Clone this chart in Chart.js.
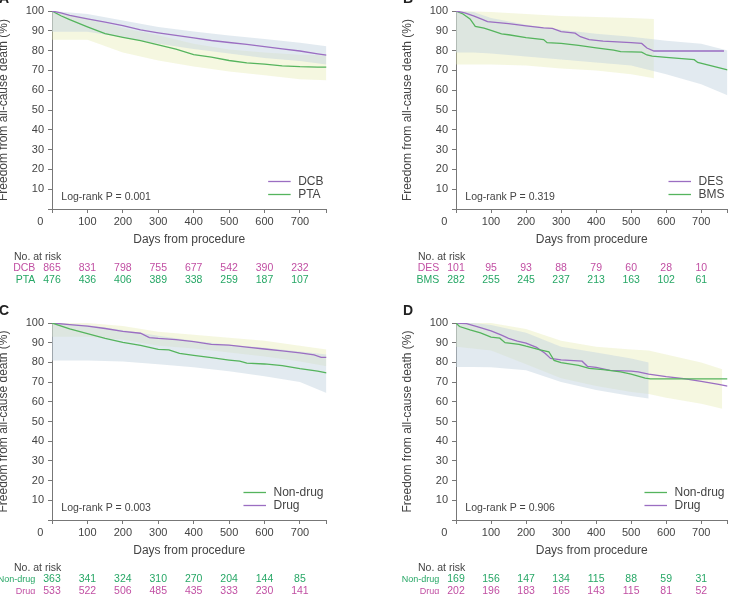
<!DOCTYPE html>
<html><head><meta charset="utf-8">
<script src="https://cdn.jsdelivr.net/npm/chart.js"></script>
<style>
html,body{margin:0;padding:0;width:734px;height:594px;overflow:hidden;background:#fff;position:relative;}
canvas{position:absolute;}
</style></head><body>
<canvas id="cA"></canvas><canvas id="cB"></canvas><canvas id="cC"></canvas><canvas id="cD"></canvas>
<script>
// ---------- DATA ----------
const riskDays = [0,100,200,300,400,500,600,700];
const xTickValues = [0,100,200,300,400,500,600,700,775];

// Panel A
const aDcbDays = [0,25,50,100,150,200,250,300,350,400,450,500,550,600,650,700,750,775];
const aDcb     = [100,99.0,97.8,96.0,94.4,92.6,90.5,89.0,87.7,86.4,85.1,84.1,83.1,82.0,80.9,79.8,78.4,77.7];
const aPtaDays = [0,25,50,100,150,200,250,300,350,400,450,500,550,600,650,700,750,775];
const aPta     = [100,97.6,95.6,92.0,88.6,86.7,85.0,82.9,80.7,78.0,76.7,75.0,73.8,73.2,72.3,71.9,71.7,71.7];
const aBandDays = [0,100,200,300,400,500,600,700,775];
const aDcbHi = [100,98.5,95.2,91.9,89.6,87.6,85.8,84.0,82.2];
const aDcbLo = [89.5,89.5,86.8,83.4,80.8,78.5,76.3,74.8,73.0];
const aPtaHi = [100,96.5,91.4,87.8,83.4,80.6,79.0,77.9,77.7];
const aPtaLo = [85.5,85.5,79.0,75.0,72.0,69.5,67.5,65.5,65.0];
const aRiskDcb = [865,831,798,755,677,542,390,232];
const aRiskPta = [476,436,406,389,338,259,187,107];

// Panel B
const bDesDays = [0,25,50,75,90,150,200,250,275,300,340,355,380,420,500,530,545,565,765];
const bDes     = [100,99,97.5,95.8,94.6,93.6,92.5,91.5,91.2,89.6,88.8,87.0,85.5,84.8,84.0,83.6,81.3,79.8,79.8];
const bBmsDays = [0,20,40,50,55,80,100,130,150,200,250,260,300,350,400,450,470,530,545,560,600,680,690,775];
const bBms     = [100,98.5,96,93.5,92.2,91.3,90.2,88.5,88,86.5,85.6,84,83.6,82.6,81.4,80.2,79.5,79.2,77.8,77.2,76.6,75.4,74,70.3];
const bDesBandDays = [0,100,200,300,400,500,565];
const bDesHi = [100,99.5,98.5,97.5,97,96.5,96];
const bDesLo = [73,73,72.5,71,70,68,66];
const bBmsBandDays = [0,50,100,200,300,400,500,600,700,775];
const bBmsHi = [100,99.5,96.5,93,90.5,88.5,87,85,83.5,80];
const bBmsLo = [79,79,78.5,77,75.5,74,72.5,68,63,57.5];
const bRiskDes = [101,95,93,88,79,60,28,10];
const bRiskBms = [282,255,245,237,213,163,102,61];

// Panel C
const cNonDays  = [0,50,100,150,200,250,300,330,360,400,450,500,530,550,600,650,700,750,775];
const cNon      = [100,97,94.6,92.2,90.2,88.6,86.6,86.4,84.6,83.6,82.4,81.2,80.6,79.6,79.2,78.4,76.8,75.6,74.7];
const cDrugDays = [0,50,100,150,200,250,275,300,350,400,450,500,550,600,650,700,740,760,775];
const cDrug     = [100,99.2,98.4,97.2,95.8,94.8,92.6,92.2,91.6,90.5,89.2,88.8,87.8,86.8,85.8,84.8,83.8,82.6,82.6];
const cBandDays = [0,100,200,300,400,500,600,700,775];
const cNonHi  = [100,99,96.5,93.5,91,89,87.5,85.5,84];
const cNonLo  = [81,81,80.5,79,77.5,75.5,73,70,64.5];
const cDrugHi = [100,100,98.5,95.5,94,92.5,91,88.5,86.5];
const cDrugLo = [93,93,91.5,88.5,87,85,83,80.5,78];
const cRiskNon  = [363,341,324,310,270,204,144,85];
const cRiskDrug = [533,522,506,485,435,333,230,141];

// Panel D
const dNonDays  = [0,10,40,70,100,125,140,180,200,240,265,280,300,350,380,420,470,500,540,555,775];
const dNon      = [100,98.2,96.5,95,92.8,92.3,90,89.2,88.2,86.4,85.4,81,79.9,78.5,77,76.3,75.2,74,72,71.6,71.6];
const dDrugDays = [0,30,60,100,130,150,175,200,230,255,270,300,360,375,400,440,500,520,550,600,650,700,750,775];
const dDrug     = [100,99.7,98.2,96,93.8,92.2,90.8,89.8,87.6,84.5,82,81.3,80.6,78,77.5,76,75.6,75.2,74,72.8,71.8,70.4,68.9,68];
const dNonBandDays = [0,50,100,200,300,400,500,550];
const dNonHi = [100,100,99,95,88,85,82,80];
const dNonLo = [77.7,77.7,77.5,76,70,66,63,61.7];
const dDrugBandDays = [0,100,200,300,400,500,550,600,700,760];
const dDrugHi = [100,100,97,91,88,86.5,86,84,80,76.5];
const dDrugLo = [88,86,79,72,68,65,64,62,59,56.5];
const dRiskNon  = [169,156,147,134,115,88,59,31];
const dRiskDrug = [202,196,183,165,143,115,81,52];

// ---------- STYLE ----------
const FONT = '"Liberation Sans", Arial, Helvetica, sans-serif';
const PURPLE = '#9b6ec2', GREEN = '#55b45d';
const TXT_M = '#c14fa3', TXT_G = '#27a766', TXT = '#444444', AXIS = '#777777';
const GRAY_BAND = 'rgba(198,213,226,0.5)', YEL_BAND = 'rgba(226,233,168,0.36)';

function pts(days, vals){ return days.map((d,i)=>({x:d, y:vals[i]})); }
function lineDs(label, days, vals, color){
  return {label, data:pts(days,vals), borderColor:color, borderWidth:1.3, pointRadius:0, fill:false, tension:0};
}
function bandDs(label, days, lo, hi, color){
  return [
    {label:label+' lo', data:pts(days,lo), borderColor:'rgba(0,0,0,0)', borderWidth:0, pointRadius:0, fill:false},
    {label:label+' hi', data:pts(days,hi), borderColor:'rgba(0,0,0,0)', borderWidth:0, pointRadius:0, fill:'-1', backgroundColor:color}
  ];
}

const annot = {
  id:'annot',
  afterDraw(chart, args, o){
    const ctx = chart.ctx, ca = chart.chartArea, xs = chart.scales.x;
    ctx.save();
    // panel letter
    ctx.fillStyle = '#222'; ctx.font = 'bold 14px '+FONT; ctx.textAlign='left'; ctx.textBaseline='alphabetic';
    ctx.fillText(o.letter, ca.left-53, ca.top-8);
    // shared origin 0
    ctx.fillStyle = TXT; ctx.font = '11px '+FONT; ctx.textAlign='center'; ctx.textBaseline='middle';
    ctx.fillText('0', ca.left-11.7, ca.bottom+12.7);
    // log-rank
    ctx.font = '10.5px '+FONT; ctx.textAlign='left';
    ctx.fillText(o.logrank, ca.left+9.3, ca.bottom-12.3);
    // legend
    ctx.font = '12px '+FONT;
    let maxW = 0; o.legend.forEach(e=>{ maxW = Math.max(maxW, ctx.measureText(e.label).width); });
    const tx = ca.right - 3 - maxW;
    o.legend.forEach((e,i)=>{
      const y = ca.bottom - 27.5 + i*13;
      ctx.strokeStyle = e.color; ctx.lineWidth = 1.3;
      ctx.beginPath(); ctx.moveTo(tx-30, y); ctx.lineTo(tx-7.5, y); ctx.stroke();
      ctx.fillStyle = TXT; ctx.textAlign='left'; ctx.fillText(e.label, tx, y);
    });
    // number at risk table
    ctx.fillStyle = TXT; ctx.font = '10.5px '+FONT; ctx.textAlign='left';
    ctx.fillText('No. at risk', ca.left-38, ca.bottom+47.7);
    o.rows.forEach((r,i)=>{
      const y = ca.bottom + 59.5 + i*12;
      ctx.fillStyle = r.color;
      ctx.font = o.rowFont+'px '+FONT; ctx.textAlign='right';
      ctx.fillText(r.label, ca.left-16.7, y);
      ctx.font = '10.5px '+FONT; ctx.textAlign='center';
      r.values.forEach((v,j)=>{ ctx.fillText(String(v), xs.getPixelForValue(riskDays[j]), y); });
    });
    ctx.restore();
  }
};

function makePanel(p){
  const cv = document.getElementById(p.id);
  cv.width = p.w; cv.height = p.h;
  cv.style.left = p.left+'px'; cv.style.top = p.top+'px';
  cv.style.width = p.w+'px'; cv.style.height = p.h+'px';
  new Chart(cv.getContext('2d'), {
    type:'line',
    data:{ datasets: p.datasets },
    options:{
      responsive:false, animation:false, devicePixelRatio:1,
      layout:{ padding:{ top:p.padTop, right:p.padRight, bottom:p.padBottom, left:0 } },
      plugins:{
        legend:{display:false}, tooltip:{enabled:false},
        filler:{ drawTime:'beforeDatasetsDraw' },
        annot:{ letter:p.letter, logrank:p.logrank, legend:p.legend, rows:p.rows, rowFont:p.rowFont }
      },
      scales:{
        x:{ type:'linear', min:0, max:775,
            afterBuildTicks(s){ s.ticks = xTickValues.map(v=>({value:v})); },
            ticks:{ autoSkip:false, maxRotation:0, padding:2, color:TXT, font:{size:11, family:FONT},
                    callback:(v)=> (v>0 && v%100===0) ? String(v) : '' },
            grid:{ drawOnChartArea:false, drawTicks:true, tickLength:4, color:AXIS },
            border:{ color:AXIS, width:1 },
            title:{ display:true, text:'Days from procedure', color:TXT, font:{size:12, family:FONT}, padding:{top:4,bottom:4} },
            afterFit(s){ s.height = 42; } },
        y:{ type:'linear', min:0, max:100,
            ticks:{ stepSize:10, padding:4, color:TXT, font:{size:11, family:FONT},
                    callback:(v)=> v>0 ? String(v) : '' },
            grid:{ drawOnChartArea:false, drawTicks:true, tickLength:4, color:AXIS },
            border:{ color:AXIS, width:1 },
            title:{ display:true, text:'Freedom from all-cause death (%)', color:TXT, font:{size:12, family:FONT}, padding:{top:4,bottom:4} },
            afterFit(s){ s.width = p.yw; } }
      }
    },
    plugins:[annot]
  });
}

makePanel({ id:'cA', left:-8, top:-9, w:345, h:300, yw:60, padTop:20, padRight:10.5, padBottom:40,
  letter:'A', logrank:'Log-rank P = 0.001', rowFont:10.5,
  legend:[{label:'DCB', color:PURPLE},{label:'PTA', color:GREEN}],
  rows:[{label:'DCB', color:TXT_M, values:aRiskDcb},{label:'PTA', color:TXT_G, values:aRiskPta}],
  datasets:[ lineDs('DCB', aDcbDays, aDcb, PURPLE), lineDs('PTA', aPtaDays, aPta, GREEN),
    ...bandDs('DCB', aBandDays, aDcbLo, aDcbHi, GRAY_BAND), ...bandDs('PTA', aBandDays, aPtaLo, aPtaHi, YEL_BAND) ] });

makePanel({ id:'cB', left:396, top:-9, w:345, h:300, yw:60, padTop:20, padRight:13.5, padBottom:40,
  letter:'B', logrank:'Log-rank P = 0.319', rowFont:10.5,
  legend:[{label:'DES', color:PURPLE},{label:'BMS', color:GREEN}],
  rows:[{label:'DES', color:TXT_M, values:bRiskDes},{label:'BMS', color:TXT_G, values:bRiskBms}],
  datasets:[ lineDs('DES', bDesDays, bDes, PURPLE), lineDs('BMS', bBmsDays, bBms, GREEN),
    ...bandDs('BMS', bBmsBandDays, bBmsLo, bBmsHi, GRAY_BAND), ...bandDs('DES', bDesBandDays, bDesLo, bDesHi, YEL_BAND) ] });

makePanel({ id:'cC', left:-8, top:303, w:345, h:299, yw:60, padTop:20, padRight:10.5, padBottom:40,
  letter:'C', logrank:'Log-rank P = 0.003', rowFont:9,
  legend:[{label:'Non-drug', color:GREEN},{label:'Drug', color:PURPLE}],
  rows:[{label:'Non-drug', color:TXT_G, values:cRiskNon},{label:'Drug', color:TXT_M, values:cRiskDrug}],
  datasets:[ lineDs('Non-drug', cNonDays, cNon, GREEN), lineDs('Drug', cDrugDays, cDrug, PURPLE),
    ...bandDs('Non-drug', cBandDays, cNonLo, cNonHi, GRAY_BAND), ...bandDs('Drug', cBandDays, cDrugLo, cDrugHi, YEL_BAND) ] });

makePanel({ id:'cD', left:396, top:303, w:345, h:299, yw:60, padTop:20, padRight:13.5, padBottom:40,
  letter:'D', logrank:'Log-rank P = 0.906', rowFont:9,
  legend:[{label:'Non-drug', color:GREEN},{label:'Drug', color:PURPLE}],
  rows:[{label:'Non-drug', color:TXT_G, values:dRiskNon},{label:'Drug', color:TXT_M, values:dRiskDrug}],
  datasets:[ lineDs('Non-drug', dNonDays, dNon, GREEN), lineDs('Drug', dDrugDays, dDrug, PURPLE),
    ...bandDs('Non-drug', dNonBandDays, dNonLo, dNonHi, GRAY_BAND), ...bandDs('Drug', dDrugBandDays, dDrugLo, dDrugHi, YEL_BAND) ] });
</script>
</body></html>
